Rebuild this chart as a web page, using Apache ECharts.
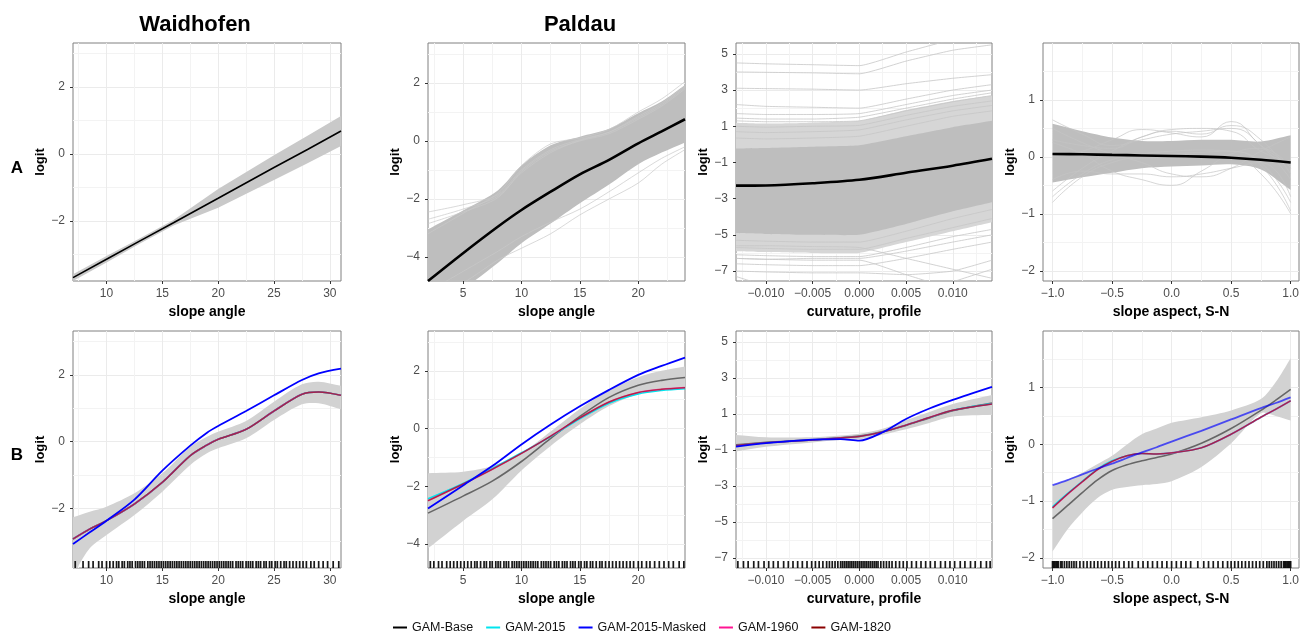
<!DOCTYPE html>
<html>
<head>
<meta charset="utf-8">
<title>GAM partial effects</title>
<script src="https://cdn.jsdelivr.net/npm/echarts@6/dist/echarts.min.js"></script>
<style>
  html, body { margin: 0; padding: 0; background: #fff; }
  #chart { width: 1312px; height: 637px; }
</style>
</head>
<body>
<div id="chart"></div>
<script>
// ---------------- data ----------------

// row A, Waidhofen, slope angle: fitted line and its band
var aWaiX = [7, 10, 13, 16, 20, 25, 28, 31];
var aWaiFit = [-3.69, -3.14, -2.59, -2.05, -1.32, -0.40, 0.14, 0.69];
var aWaiLo = [-3.79, -3.24, -2.67, -2.13, -1.60, -0.77, -0.27, 0.24];
var aWaiHi = [-3.59, -3.04, -2.51, -1.97, -1.04, -0.03, 0.55, 1.14];

// row A, Paldau, slope angle: mean curve, dense bootstrap band, stray curves
var aSlpX = [2, 5, 8, 10, 12.5, 15, 17.5, 20, 22, 24];
var aSlpFit = [-4.83, -3.87, -2.95, -2.38, -1.75, -1.15, -0.65, -0.08, 0.33, 0.75];
var aSlpLo = [-5.8, -5.1, -4.2, -3.53, -2.85, -2.15, -1.5, -0.8, -0.4, -0.05];
var aSlpHi = [-3.05, -2.4, -1.7, -0.85, -0.15, 0.15, 0.42, 0.96, 1.36, 1.93];
var aSlpStray = [
  [-2.45, -2.2, -1.85, -1.0, -0.3, 0.05, 0.3, 0.8, 1.25, 1.85],
  [-2.85, -2.45, -1.95, -1.05, -0.35, 0.0, 0.25, 0.75, 1.2, 1.8],
  [-2.7, -2.35, -1.9, -1.1, -0.4, 0.02, 0.3, 0.85, 1.3, 1.9],
  [-5.5, -4.9, -4.1, -3.7, -3.2, -2.55, -2.0, -1.45, -0.8, -0.3],
  [-5.2, -4.5, -3.8, -3.3, -2.8, -2.35, -1.75, -1.1, -0.6, -0.2],
  [-3.2, -2.5, -1.8, -0.85, -0.1, 0.1, 0.4, 1.0, 1.45, 2.05]
];

// row A, Paldau, profile curvature
var aCurX = [-0.0132, -0.010, -0.005, 0.0, 0.005, 0.010, 0.0142];
var aCurFit = [-2.28, -2.27, -2.15, -1.96, -1.57, -1.18, -0.8];
var aCurLo = [-4.9, -4.95, -5.0, -5.0, -4.4, -3.7, -3.2];
var aCurHi = [-0.23, -0.2, -0.13, -0.05, 0.45, 0.95, 1.3];
var aCurLo2 = [-5.9, -5.95, -6.0, -6.0, -5.4, -4.8, -4.3];
var aCurHi2 = [1.2, 1.15, 1.2, 1.3, 1.9, 2.4, 2.7];
var aCurStray = [
  [4.5, 4.45, 4.4, 4.35, 5.1, 5.8, 6.4],
  [4.0, 3.98, 3.95, 3.9, 4.6, 5.2, 5.5],
  [3.1, 3.08, 3.05, 3.0, 3.35, 3.65, 3.85],
  [2.2, 2.1, 2.05, 2.0, 2.5, 3.0, 3.3],
  [1.7, 1.65, 1.65, 1.7, 2.2, 2.7, 3.0],
  [1.45, 1.4, 1.4, 1.5, 2.0, 2.5, 2.85],
  [1.3, 1.25, 1.25, 1.3, 1.85, 2.35, 2.7],
  [1.0, 0.95, 1.0, 1.05, 1.6, 2.1, 2.4],
  [0.7, 0.65, 0.7, 0.8, 1.35, 1.85, 2.15],
  [0.35, 0.3, 0.35, 0.45, 1.0, 1.55, 1.85],
  [-5.3, -5.35, -5.4, -5.4, -4.8, -4.1, -3.6],
  [-5.7, -5.75, -5.8, -5.8, -5.2, -4.6, -4.1],
  [-6.1, -6.15, -6.2, -6.2, -5.7, -5.1, -4.7],
  [-6.3, -6.35, -6.3, -6.3, -5.9, -5.4, -5.0],
  [-6.6, -6.65, -6.7, -6.7, -6.3, -5.8, -5.4],
  [-7.0, -7.05, -7.1, -7.1, -7.2, -7.0, -6.4],
  [-5.6, -5.6, -5.65, -5.7, -6.3, -6.9, -7.4],
  [-6.3, -6.35, -6.4, -6.4, -7.2, -8.0, -8.6],
  [-7.3, -7.8, -8.2, -8.5, -8.5, -8.2, -7.9],
  [-9.0, -9.0, -9.0, -9.0, -8.5, -7.6, -6.9]
];

// row A, Paldau, slope aspect
var aAspX = [-1, -0.75, -0.5, -0.25, 0, 0.25, 0.5, 0.75, 1];
var aAspFit = [0.05, 0.045, 0.035, 0.025, 0.015, 0.005, -0.015, -0.05, -0.1];
var aAspLo = [-0.45, -0.36, -0.28, -0.2, -0.17, -0.15, -0.13, -0.22, -0.58];
var aAspHi = [0.58, 0.45, 0.34, 0.28, 0.28, 0.3, 0.3, 0.27, 0.38];
var aAspStray = [
  [0.0, 0.1, 0.3, 0.48, 0.42, 0.35, 0.62, 0.2, -0.15],
  [0.25, 0.05, -0.25, -0.4, -0.5, -0.25, 0.05, 0.15, -0.2],
  [0.3, 0.2, 0.15, 0.35, 0.48, 0.5, 0.45, 0.1, -0.1],
  [-0.8, -0.35, -0.1, 0.0, 0.05, 0.08, 0.1, -0.15, -0.95],
  [-0.7, -0.3, -0.05, 0.05, 0.1, 0.12, 0.1, -0.1, -0.8],
  [0.5, 0.25, 0.05, -0.1, -0.3, -0.35, -0.2, 0.1, 0.35],
  [-0.6, -0.2, 0.1, 0.35, 0.45, 0.4, 0.55, 0.3, -0.3],
  [0.1, 0.05, 0.0, -0.02, -0.02, 0.0, 0.0, -0.3, -1.0],
  [0.65, 0.4, 0.2, 0.3, 0.4, 0.45, 0.5, 0.2, -0.4],
  [-0.4, -0.25, -0.3, -0.3, -0.35, -0.3, -0.2, -0.1, -0.7]
];

// row B, Waidhofen, slope angle
var bWaiX = [7, 8.5, 10, 12.5, 15, 17.5, 19, 20, 22.5, 25, 27.5, 29, 31];
var bWaiBase = [-2.92, -2.62, -2.37, -1.87, -1.22, -0.42, -0.1, 0.07, 0.37, 0.92, 1.42, 1.49, 1.39];
var bWai2015 = [-2.92, -2.62, -2.37, -1.87, -1.22, -0.42, -0.1, 0.07, 0.37, 0.92, 1.42, 1.49, 1.39];
var bWaiMasked = [-3.07, -2.72, -2.37, -1.74, -0.87, -0.12, 0.27, 0.47, 0.92, 1.39, 1.85, 2.05, 2.19];
var bWai1960 = [-2.92, -2.62, -2.37, -1.87, -1.22, -0.42, -0.1, 0.07, 0.37, 0.92, 1.42, 1.49, 1.39];
var bWai1820 = [-2.92, -2.62, -2.37, -1.87, -1.22, -0.42, -0.1, 0.07, 0.37, 0.92, 1.42, 1.49, 1.39];
var bWaiLo = [-4.0, -3.2, -2.8, -2.2, -1.5, -0.7, -0.35, -0.2, 0.1, 0.65, 1.12, 1.15, 0.97];
var bWaiHi = [-2.27, -2.1, -1.95, -1.55, -0.95, -0.15, 0.15, 0.3, 0.62, 1.2, 1.72, 1.8, 1.68];
var bWaiRug = [7.2, 7.9, 8.4, 8.8, 9.3, 9.6, 10.0, 10.3, 10.6, 10.9, 11.1, 11.4, 11.6, 11.9, 12.1, 12.3,
  12.6, 12.8, 13.0, 13.2, 13.4, 13.7, 13.9, 14.1, 14.3, 14.5, 14.7, 14.9, 15.1, 15.3, 15.5, 15.7, 15.9,
  16.1, 16.3, 16.5, 16.7, 16.9, 17.1, 17.3, 17.5, 17.7, 17.9, 18.1, 18.3, 18.5, 18.7, 18.9, 19.1, 19.3,
  19.5, 19.7, 19.9, 20.1, 20.3, 20.5, 20.7, 20.9, 21.1, 21.3, 21.6, 21.8, 22.0, 22.2, 22.5, 22.7, 22.9,
  23.1, 23.4, 23.6, 23.8, 24.1, 24.3, 24.6, 24.8, 25.1, 25.3, 25.6, 25.9, 26.1, 26.4, 26.7, 27.0, 27.3,
  27.6, 27.9, 28.3, 28.6, 29.0, 29.4, 29.8, 30.3, 30.8];

// row B, Paldau, slope angle
var bSlpX = [2, 5, 7.5, 10, 12.5, 15, 17.5, 20, 22, 24];
var bSlpBase = [-2.93, -2.34, -1.82, -1.14, -0.34, 0.42, 1.08, 1.5, 1.67, 1.77];
var bSlp2015 = [-2.43, -1.9, -1.38, -0.84, -0.28, 0.34, 0.88, 1.2, 1.32, 1.38];
var bSlpMasked = [-2.77, -1.97, -1.3, -0.55, 0.14, 0.77, 1.34, 1.86, 2.17, 2.46];
var bSlp1960 = [-2.5, -1.92, -1.41, -0.86, -0.26, 0.37, 0.92, 1.25, 1.36, 1.42];
var bSlp1820 = [-2.5, -1.92, -1.41, -0.86, -0.26, 0.37, 0.92, 1.25, 1.36, 1.42];
var bSlpLo = [-4.15, -3.2, -2.45, -1.45, -0.6, 0.15, 0.78, 1.2, 1.35, 1.38];
var bSlpHi = [-1.55, -1.5, -1.3, -0.85, -0.1, 0.68, 1.32, 1.78, 2.0, 2.15];
var bSlpRug = [2.2, 2.5, 2.9, 3.2, 3.6, 3.9, 4.2, 4.5, 4.8, 5.1, 5.4, 5.7, 6.0, 6.2, 6.5, 6.8, 7.0, 7.3,
  7.5, 7.8, 8.0, 8.2, 8.5, 8.7, 8.9, 9.2, 9.4, 9.6, 9.8, 10.0, 10.2, 10.4, 10.6, 10.8, 11.0, 11.2, 11.4,
  11.7, 11.9, 12.1, 12.3, 12.5, 12.8, 13.0, 13.2, 13.5, 13.7, 13.9, 14.2, 14.4, 14.6, 14.9, 15.1, 15.4,
  15.6, 15.9, 16.1, 16.4, 16.7, 16.9, 17.2, 17.5, 17.8, 18.1, 18.4, 18.7, 19.0, 19.3, 19.6, 20.0, 20.3,
  20.7, 21.0, 21.4, 21.8, 22.2, 22.6, 23.0, 23.5, 23.9];

// row B, Paldau, profile curvature
var bCurX = [-0.0132, -0.010, -0.005, -0.002, 0.0, 0.0025, 0.005, 0.0075, 0.010, 0.0142];
var bCurBase = [-0.72, -0.58, -0.44, -0.32, -0.23, 0.02, 0.36, 0.78, 1.18, 1.6];
var bCur2015 = [-0.75, -0.6, -0.45, -0.33, -0.25, 0.0, 0.38, 0.8, 1.2, 1.57];
var bCurMasked = [-0.82, -0.62, -0.43, -0.4, -0.48, -0.02, 0.72, 1.3, 1.78, 2.5];
var bCur1960 = [-0.75, -0.6, -0.45, -0.33, -0.25, 0.0, 0.38, 0.8, 1.2, 1.55];
var bCur1820 = [-0.75, -0.6, -0.45, -0.33, -0.25, 0.0, 0.38, 0.8, 1.2, 1.55];
var bCurLo = [-1.08, -0.82, -0.58, -0.45, -0.4, -0.15, 0.15, 0.5, 0.85, 0.95];
var bCurHi = [-0.17, -0.3, -0.3, -0.2, -0.1, 0.18, 0.65, 1.1, 1.55, 2.05];
var bCurRug = [-0.0130, -0.0124, -0.0119, -0.0113, -0.0108, -0.0102, -0.0097, -0.0092, -0.0087, -0.0081,
  -0.0076, -0.0071, -0.0066, -0.0061, -0.0056, -0.0051, -0.0047, -0.0043, -0.0039, -0.0035, -0.0032,
  -0.0029, -0.0026, -0.0023, -0.0020, -0.0018, -0.0016, -0.0014, -0.0012, -0.0010, -0.0008, -0.0006,
  -0.0004, -0.0002, 0.0000, 0.0002, 0.0004, 0.0006, 0.0008, 0.0010, 0.0012, 0.0014, 0.0016, 0.0018,
  0.0020, 0.0023, 0.0026, 0.0029, 0.0032, 0.0035, 0.0039, 0.0043, 0.0047, 0.0051, 0.0056, 0.0061,
  0.0066, 0.0071, 0.0076, 0.0081, 0.0087, 0.0092, 0.0097, 0.0102, 0.0108, 0.0113, 0.0119, 0.0124,
  0.0130, 0.0136, 0.0140];

// row B, Paldau, slope aspect
var bAspX = [-1, -0.875, -0.75, -0.625, -0.5, -0.375, -0.25, -0.125, 0, 0.25, 0.5, 0.75, 0.875, 1];
var bAspBase = [-1.31, -1.08, -0.85, -0.63, -0.46, -0.36, -0.29, -0.23, -0.17, 0.02, 0.28, 0.6, 0.78, 0.97];
var bAsp2015 = [-1.1, -0.87, -0.65, -0.44, -0.29, -0.2, -0.16, -0.17, -0.15, -0.06, 0.18, 0.48, 0.62, 0.77];
var bAspMasked = [-0.72, -0.63, -0.53, -0.43, -0.34, -0.24, -0.14, -0.05, 0.05, 0.24, 0.44, 0.64, 0.73, 0.83];
var bAsp1960 = [-1.12, -0.88, -0.66, -0.45, -0.3, -0.2, -0.16, -0.17, -0.15, -0.06, 0.18, 0.48, 0.62, 0.77];
var bAsp1820 = [-1.12, -0.88, -0.66, -0.45, -0.3, -0.2, -0.16, -0.17, -0.15, -0.06, 0.18, 0.48, 0.62, 0.77];
var bAspLo = [-1.89, -1.5, -1.2, -0.95, -0.8, -0.75, -0.72, -0.7, -0.65, -0.4, 0.02, 0.55, 0.5, 0.42];
var bAspHi = [-0.72, -0.62, -0.5, -0.35, -0.2, 0.0, 0.18, 0.28, 0.38, 0.48, 0.6, 0.8, 1.1, 1.52];
var bAspRug = [-1.0, -0.99, -0.98, -0.97, -0.96, -0.95, -0.93, -0.92, -0.9, -0.88, -0.86, -0.84, -0.82,
  -0.8, -0.77, -0.74, -0.71, -0.68, -0.65, -0.62, -0.59, -0.56, -0.53, -0.5, -0.47, -0.44, -0.4, -0.36,
  -0.33, -0.28, -0.24, -0.2, -0.16, -0.12, -0.08, -0.04, 0.0, 0.04, 0.08, 0.12, 0.16, 0.22, 0.27, 0.31,
  0.35, 0.39, 0.43, 0.47, 0.5, 0.53, 0.56, 0.59, 0.62, 0.65, 0.68, 0.71, 0.74, 0.77, 0.8, 0.82, 0.84,
  0.86, 0.88, 0.9, 0.92, 0.94, 0.95, 0.96, 0.97, 0.98, 0.99, 1.0];

// axes (one entry per column)
var xMin = [7, 2, -0.0132, -1.08];
var xMax = [31, 24, 0.0142, 1.07];
var xMajor = [[10, 15, 20, 25, 30], [5, 10, 15, 20], [-0.01, -0.005, 0, 0.005, 0.01], [-1, -0.5, 0, 0.5, 1]];
var xMinor = [[7.5, 12.5, 17.5, 22.5, 27.5], [2.5, 7.5, 12.5, 17.5, 22.5],
  [-0.0125, -0.0075, -0.0025, 0.0025, 0.0075, 0.0125], [-0.75, -0.25, 0.25, 0.75]];
var xDigits = [0, 0, 3, 1];
var xNames = ['slope angle', 'slope angle', 'curvature, profile', 'slope aspect, S-N'];
var yMin = [-3.79, -4.83, -7.55, -2.18];
var yMax = [3.32, 3.38, 5.6, 2.0];
var yMajor = [[-2, 0, 2], [-4, -2, 0, 2], [-7, -5, -3, -1, 1, 3, 5], [-2, -1, 0, 1]];
var yMinor = [[-3, -1, 1, 3], [-3, -1, 1, 3], [-6, -4, -2, 0, 2, 4], [-1.5, -0.5, 0.5, 1.5]];

var legendNames = ['GAM-Base', 'GAM-2015', 'GAM-2015-Masked', 'GAM-1960', 'GAM-1820'];

// ---------------- layout ----------------
var FONT = '"Liberation Sans", Arial, Helvetica, sans-serif';
var colLeft = [73, 428, 736, 1043];
var colRight = [341, 685, 992, 1299];
var rowTop = [43, 331];
var rowBottom = [281, 568];

function minusFmt(d) {
  return function (v) {
    var s = Math.abs(v).toFixed(d);
    return (v < -1e-12 ? '\u2212' : '') + s;
  };
}

var grids = [], xAxes = [], yAxes = [], series = [];

for (var r = 0; r < 2; r++) {
  for (var c = 0; c < 4; c++) {
    var g = r * 4 + c;
    grids.push({
      left: colLeft[c], top: rowTop[r],
      width: colRight[c] - colLeft[c], height: rowBottom[r] - rowTop[r],
      show: true, borderColor: '#808080', borderWidth: 1, backgroundColor: '#fff'
    });
    // major x axis: labels, ticks, major grid lines
    xAxes.push({
      gridIndex: g, type: 'value', min: xMin[c], max: xMax[c], position: 'bottom',
      name: xNames[c], nameLocation: 'middle', nameGap: 24,
      nameTextStyle: { fontFamily: FONT, fontSize: 14, fontWeight: 'bold', color: '#000' },
      axisLine: { show: false, onZero: false },
      axisTick: { show: true, length: 3, customValues: xMajor[c], lineStyle: { color: '#333' } },
      axisLabel: { customValues: xMajor[c], formatter: minusFmt(xDigits[c]), margin: 7,
        fontFamily: FONT, fontSize: 12, color: '#4d4d4d' },
      splitLine: { show: true, lineStyle: { color: '#ebebeb', width: 1 } }
    });
    // minor x axis: only the minor grid lines
    xAxes.push({
      gridIndex: g, type: 'value', min: xMin[c], max: xMax[c], position: 'bottom',
      axisLine: { show: false, onZero: false },
      axisTick: { show: false, customValues: xMinor[c] },
      axisLabel: { show: false },
      splitLine: { show: true, lineStyle: { color: '#f3f3f3', width: 1 } }
    });
    yAxes.push({
      gridIndex: g, type: 'value', min: yMin[c], max: yMax[c], position: 'left',
      name: 'logit', nameLocation: 'middle', nameGap: 25,
      nameTextStyle: { fontFamily: FONT, fontSize: 13, fontWeight: 'bold', color: '#000' },
      axisLine: { show: false, onZero: false },
      axisTick: { show: true, length: 3, customValues: yMajor[c], lineStyle: { color: '#333' } },
      axisLabel: { customValues: yMajor[c], formatter: minusFmt(0), margin: 8,
        fontFamily: FONT, fontSize: 12, color: '#4d4d4d' },
      splitLine: { show: true, lineStyle: { color: '#ebebeb', width: 1 } }
    });
    yAxes.push({
      gridIndex: g, type: 'value', min: yMin[c], max: yMax[c], position: 'left',
      axisLine: { show: false, onZero: false },
      axisTick: { show: false, customValues: yMinor[c] },
      axisLabel: { show: false },
      splitLine: { show: true, lineStyle: { color: '#f3f3f3', width: 1 } }
    });
  }
}

function pairs(xs, ys) {
  return xs.map(function (x, i) { return [x, ys[i]]; });
}

function addLine(p, xs, ys, color, width, opts) {
  opts = opts || {};
  series.push({
    type: 'line', name: opts.name, xAxisIndex: 2 * p, yAxisIndex: 2 * p,
    data: pairs(xs, ys), symbol: 'none', silent: true,
    smooth: opts.smooth === undefined ? 0.3 : opts.smooth,
    lineStyle: { color: color, width: width, opacity: opts.opacity || 1 },
    itemStyle: { color: color },
    z: opts.z || 3
  });
}

// confidence / bootstrap band: one polygon (upper edge, then lower edge back).
// The four corner points are doubled so the smoothing keeps the ends square.
function addBand(p, xs, lo, hi, color, smooth) {
  var data = xs.map(function (x, i) { return [x, lo[i], hi[i]]; });
  series.push({
    type: 'custom', xAxisIndex: 2 * p, yAxisIndex: 2 * p, silent: true, clip: true, z: 2,
    data: data,
    encode: { x: 0, y: [1, 2] },
    renderItem: function (params, api) {
      if (params.dataIndex !== 0) return null;
      var n = data.length, pts = [];
      for (var i = 0; i < n; i++) {
        var up = api.coord([data[i][0], data[i][2]]);
        pts.push(up);
        if (i === 0 || i === n - 1) pts.push(up.slice());
      }
      for (var j = n - 1; j >= 0; j--) {
        var dn = api.coord([data[j][0], data[j][1]]);
        pts.push(dn);
        if (j === 0 || j === n - 1) pts.push(dn.slice());
      }
      return {
        type: 'polygon',
        shape: { points: pts, smooth: smooth === undefined ? 0.3 : smooth },
        style: { fill: color, stroke: null }
      };
    }
  });
}

function addRug(p, c, xs) {
  series.push({
    type: 'scatter', xAxisIndex: 2 * p, yAxisIndex: 2 * p, silent: true, clip: false,
    data: xs.map(function (x) { return [x, yMin[c]]; }),
    symbol: 'rect', symbolSize: [1.7, 7], symbolOffset: [0, -3.5],
    itemStyle: { color: '#000', opacity: 0.9 }, z: 4
  });
}

// row A
addLine(0, aWaiX, aWaiFit, '#000', 1.6, { name: 'GAM-Base', smooth: false, z: 5 });
addBand(0, aWaiX, aWaiLo, aWaiHi, '#c9c9c9', 0);

addBand(1, aSlpX, aSlpLo, aSlpHi, '#bebebe');
aSlpStray.forEach(function (s) { addLine(1, aSlpX, s, '#c8c8c8', 0.7); });
addLine(1, aSlpX, aSlpFit, '#000', 2.6, { name: 'GAM-Base', z: 5 });

addBand(2, aCurX, aCurLo2, aCurHi2, '#d6d6d6', 0.15);
addBand(2, aCurX, aCurLo, aCurHi, '#bebebe', 0.15);
aCurStray.forEach(function (s) { addLine(2, aCurX, s, '#c6c6c6', 0.8, { smooth: 0.15 }); });
addLine(2, aCurX, aCurFit, '#000', 2.6, { name: 'GAM-Base', z: 5 });

addBand(3, aAspX, aAspLo, aAspHi, '#bebebe');
aAspStray.forEach(function (s) { addLine(3, aAspX, s, '#c4c4c4', 0.7, { smooth: 0.5 }); });
addLine(3, aAspX, aAspFit, '#000', 2.6, { name: 'GAM-Base', z: 5 });

// row B
var rowB = [
  [bWaiX, bWaiLo, bWaiHi, bWaiBase, bWai2015, bWai1960, bWai1820, bWaiMasked, bWaiRug],
  [bSlpX, bSlpLo, bSlpHi, bSlpBase, bSlp2015, bSlp1960, bSlp1820, bSlpMasked, bSlpRug],
  [bCurX, bCurLo, bCurHi, bCurBase, bCur2015, bCur1960, bCur1820, bCurMasked, bCurRug],
  [bAspX, bAspLo, bAspHi, bAspBase, bAsp2015, bAsp1960, bAsp1820, bAspMasked, bAspRug]
];
rowB.forEach(function (d, c) {
  var p = 4 + c;
  addBand(p, d[0], d[1], d[2], '#d2d2d2');
  addLine(p, d[0], d[3], '#666666', 1.6, { name: 'GAM-Base', z: 3 });
  addLine(p, d[0], d[4], '#00e5ee', 1.6, { name: 'GAM-2015', z: 3 });
  addLine(p, d[0], d[5], '#ff1493', 1.6, { name: 'GAM-1960', z: 3, opacity: 0.75 });
  addLine(p, d[0], d[6], '#8b0000', 1.4, { name: 'GAM-1820', z: 3, opacity: 0.55 });
  addLine(p, d[0], d[7], '#0000ff', 1.8, { name: 'GAM-2015-Masked', z: 3, opacity: c === 3 ? 0.65 : 1 });
  addRug(p, c, d[8]);
});

var chart = echarts.init(document.getElementById('chart'), null, { renderer: 'canvas' });
chart.setOption({
  animation: false,
  backgroundColor: '#fff',
  textStyle: { fontFamily: FONT },
  grid: grids,
  xAxis: xAxes,
  yAxis: yAxes,
  legend: {
    data: legendNames, top: 621, left: 393, padding: 0, selectedMode: false,
    icon: 'rect', itemWidth: 14, itemHeight: 2, itemGap: 13,
    itemStyle: { opacity: 1 },
    textStyle: { fontFamily: FONT, fontSize: 12.5, color: '#111' }
  },
  graphic: [
    { type: 'text', x: 195, y: 25, style: { text: 'Waidhofen', font: 'bold 22px ' + FONT, fill: '#000', textAlign: 'center', textVerticalAlign: 'middle' } },
    { type: 'text', x: 580, y: 25, style: { text: 'Paldau', font: 'bold 22px ' + FONT, fill: '#000', textAlign: 'center', textVerticalAlign: 'middle' } },
    { type: 'text', x: 17, y: 168, style: { text: 'A', font: 'bold 17px ' + FONT, fill: '#000', textAlign: 'center', textVerticalAlign: 'middle' } },
    { type: 'text', x: 17, y: 455, style: { text: 'B', font: 'bold 17px ' + FONT, fill: '#000', textAlign: 'center', textVerticalAlign: 'middle' } }
  ],
  series: series
});
</script>
</body>
</html>
